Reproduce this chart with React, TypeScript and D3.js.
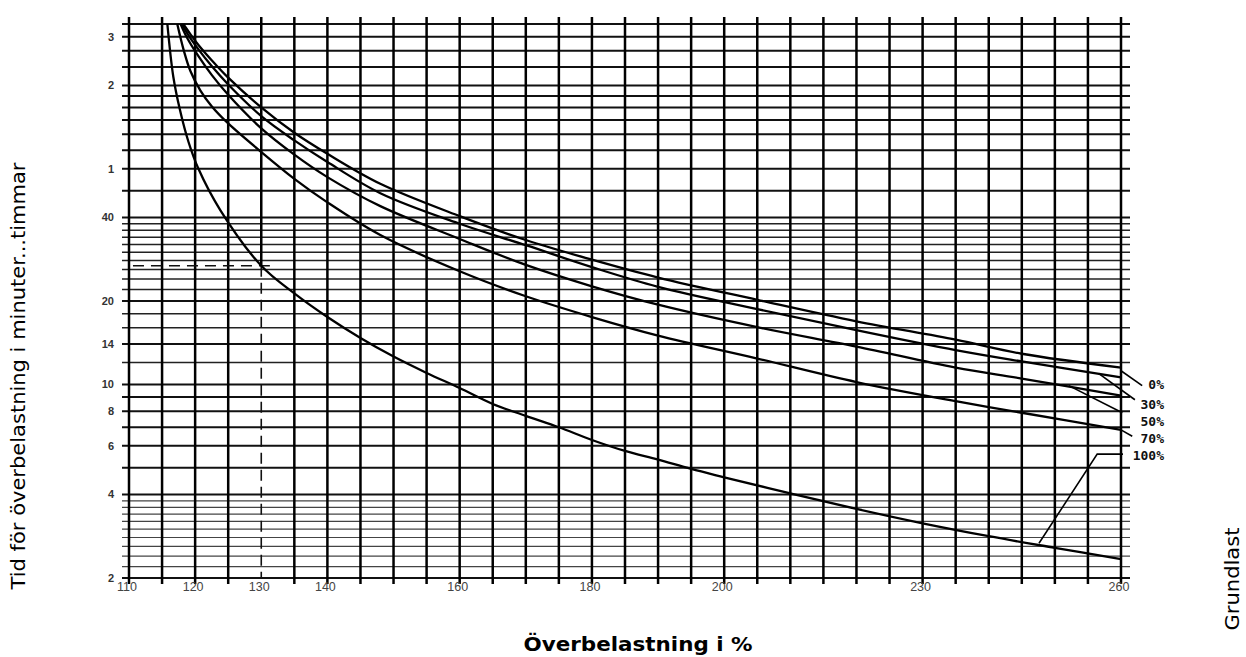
import React from "react";
import * as d3 from "d3";

const W = 1246;
const H = 657;

// x: överbelastning i %, y: tid i minuter (log)
const xTickLabels = [110, 120, 130, 140, 160, 180, 200, 230, 260];
const xGrid = [110, 115, 120, 125, 130, 135, 140, 145, 150, 155, 160, 165, 170, 175, 180, 185, 190, 195, 200, 205, 210, 215, 220, 225, 230, 235, 240, 245, 250, 255, 260];

const yTickValues = [180, 120, 60, 40, 20, 14, 10, 8, 6, 4, 2];
const yTickLabels = ["3", "2", "1", "40", "20", "14", "10", "8", "6", "4", "2"];
const yGridMajor = [200, 180, 160, 140, 120, 110, 100, 90, 80, 70, 60, 50, 40, 20, 14, 10, 9, 8, 7, 6, 5, 4, 2];
const yGridMid = [38, 36, 34, 32, 30, 28, 26, 24, 22, 18, 16, 12];
const yGridFine = [3.8, 3.6, 3.4, 3.2, 3.0, 2.8, 2.6, 2.4, 2.2];

const seriesNames = ["0%", "30%", "50%", "70%", "100%"];

const curve0: [number, number][] = [
  [118.2, 200], [119.2, 185], [120.5, 168], [122.5, 148], [125, 128], [130, 100], [135, 81], [140, 68],
  [148, 53], [160, 40.5], [170, 33.2], [180, 28.2], [190, 24.3], [205, 20.2], [220, 16.9], [235, 14.5], [245, 12.9], [260, 11.5],
];
const curve30: [number, number][] = [
  [118, 200], [119, 182], [120.5, 162], [122.5, 141], [125, 121], [130, 93], [135, 76], [140, 63.5],
  [148, 49], [160, 38], [170, 31.8], [180, 26.5], [190, 22.5], [205, 18.7], [220, 15.7], [235, 13.3], [245, 12.1], [260, 10.6],
];
const curve50: [number, number][] = [
  [117.8, 200], [118.8, 178], [120.5, 153], [122.5, 131], [125, 111], [130, 84], [135, 67.5], [140, 56],
  [148, 44], [160, 33.5], [170, 27], [180, 22.6], [190, 19.4], [205, 16.1], [220, 13.7], [235, 11.5], [245, 10.5], [260, 9.1],
];
const curve70: [number, number][] = [
  [117.3, 200], [118.3, 160], [119.3, 135], [120.8, 115], [122.5, 101], [125, 87.5], [130, 69], [135, 55.2], [140, 45.4],
  [148, 34.6], [160, 25.6], [170, 20.8], [180, 17.5], [190, 15], [205, 12.4], [220, 10.2], [235, 8.7], [245, 7.9], [260, 6.85],
];
const curve100: [number, number][] = [
  [115.8, 200], [116.7, 129], [117.7, 98], [119, 75], [120.5, 60], [123.8, 42.6], [130, 26.8], [135, 21.3],
  [140, 17.5], [145, 14.7], [150, 12.6], [155, 11.0], [160, 9.7], [165, 8.5], [170, 7.7], [175, 7.0], [180, 6.3],
  [185, 5.75], [190, 5.35], [195, 4.95], [200, 4.62], [210, 4.04], [220, 3.55], [230, 3.15], [240, 2.83], [250, 2.57], [260, 2.34],
];
const curves = [curve0, curve30, curve50, curve70, curve100];

// hänvisningslinjer till etiketterna
const leaders: [number, number][][] = [
  [[260, 11.2], [263.2, 9.9]],
  [[256.6, 10.95], [262.1, 8.8]],
  [[252.1, 9.9], [260.2, 7.9]],
  [[260, 6.85], [261.7, 6.5]],
  [[247.6, 2.67], [256.4, 5.6], [260.3, 5.6]],
];
const labelPos: [number, number][] = [[266.5, 10.0], [266.5, 8.44], [266.5, 7.37], [266.5, 6.39], [266.5, 5.55]];

// avläsningsexempel: 130 % ger ca 27 min vid 100 % grundlast
const readX = 130;
const readY = 26.8;
const dashH: [number, number][] = [[110.6, readY], [131.3, readY]];
const dashV: [number, number][] = [[readX, readY], [readX, 2]];

const x = d3.scaleLinear().domain([110, 260]).range([129, 1121]);
const y = d3.scaleLog().domain([2, 200]).range([578, 24]);

const line = d3
  .line<[number, number]>()
  .x((d) => x(d[0]))
  .y((d) => y(d[1]))
  .curve(d3.curveCatmullRom.alpha(0.5));

const straight = d3
  .line<[number, number]>()
  .x((d) => x(d[0]))
  .y((d) => y(d[1]));

export default function App() {
  const gx0 = 122;
  const gx1 = 1130;
  return (
    <svg width={W} height={H} style={{ position: "absolute", left: 0, top: 0, background: "#fff" }}>
      {/* fina linjer */}
      {yGridFine.map((v) => (
        <line key={"f" + v} x1={gx0} x2={gx1} y1={y(v)} y2={y(v)} stroke="#444" strokeWidth={1.2} />
      ))}
      {yGridMid.map((v) => (
        <line key={"m" + v} x1={gx0} x2={gx1} y1={y(v)} y2={y(v)} stroke="#222" strokeWidth={1.5} />
      ))}
      {yGridMajor.map((v) => (
        <line key={"M" + v} x1={gx0} x2={gx1} y1={y(v)} y2={y(v)} stroke="#111" strokeWidth={2} />
      ))}
      {xGrid.map((v) => (
        <line
          key={"v" + v}
          x1={x(v)}
          x2={x(v)}
          y1={17}
          y2={v === readX ? y(readY) : 584}
          stroke="#000"
          strokeWidth={2.5}
        />
      ))}

      {/* streckade avläsningslinjer */}
      <path d={straight(dashH) || ""} fill="none" stroke="#111" strokeWidth={1.6} strokeDasharray="11 7" />
      <path d={straight(dashV) || ""} fill="none" stroke="#111" strokeWidth={1.6} strokeDasharray="11 6" />

      {curves.map((c, i) => (
        <path key={"c" + i} d={line(c) || ""} fill="none" stroke="#000" strokeWidth={2.3} />
      ))}
      {leaders.map((l, i) => (
        <path key={"l" + i} d={straight(l) || ""} fill="none" stroke="#000" strokeWidth={1.6} />
      ))}
      {seriesNames.map((s, i) => (
        <text
          key={"s" + i}
          x={x(labelPos[i][0])}
          y={y(labelPos[i][1])}
          dy="0.35em"
          textAnchor="end"
          fontFamily="DejaVu Sans Mono"
          fontWeight="bold"
          fontSize={13}
          fill="#111"
        >
          {s}
        </text>
      ))}

      {/* axeltexter */}
      {yTickValues.map((v, i) => (
        <text
          key={"yt" + i}
          x={114}
          y={y(v)}
          dy="0.35em"
          textAnchor="end"
          fontFamily="Liberation Sans, Arial, sans-serif"
          fontWeight="bold"
          fontSize={11}
          fill="#333"
        >
          {yTickLabels[i]}
        </text>
      ))}
      {xTickLabels.map((v) => (
        <text
          key={"xt" + v}
          x={x(v) - 2}
          y={591}
          textAnchor="middle"
          fontFamily="Liberation Sans, Arial, sans-serif"
          fontSize={12.5}
          fill="#444"
        >
          {v}
        </text>
      ))}

      <text
        x={638}
        y={651}
        textAnchor="middle"
        fontFamily="DejaVu Sans, Verdana, sans-serif"
        fontWeight="bold"
        fontSize={19}
        textLength={229}
        lengthAdjust="spacingAndGlyphs"
        fill="#000"
      >
        Överbelastning i %
      </text>
      <text
        transform="translate(25,376) rotate(-90)"
        textAnchor="middle"
        fontFamily="DejaVu Sans, Verdana, sans-serif"
        fontSize={19}
        textLength={427}
        lengthAdjust="spacingAndGlyphs"
        fill="#000"
      >
        Tid för överbelastning i minuter...timmar
      </text>
      <text
        transform="translate(1239,579) rotate(-90)"
        textAnchor="middle"
        fontFamily="DejaVu Sans, Verdana, sans-serif"
        fontSize={19}
        textLength={103}
        lengthAdjust="spacingAndGlyphs"
        fill="#000"
      >
        Grundlast
      </text>
    </svg>
  );
}
